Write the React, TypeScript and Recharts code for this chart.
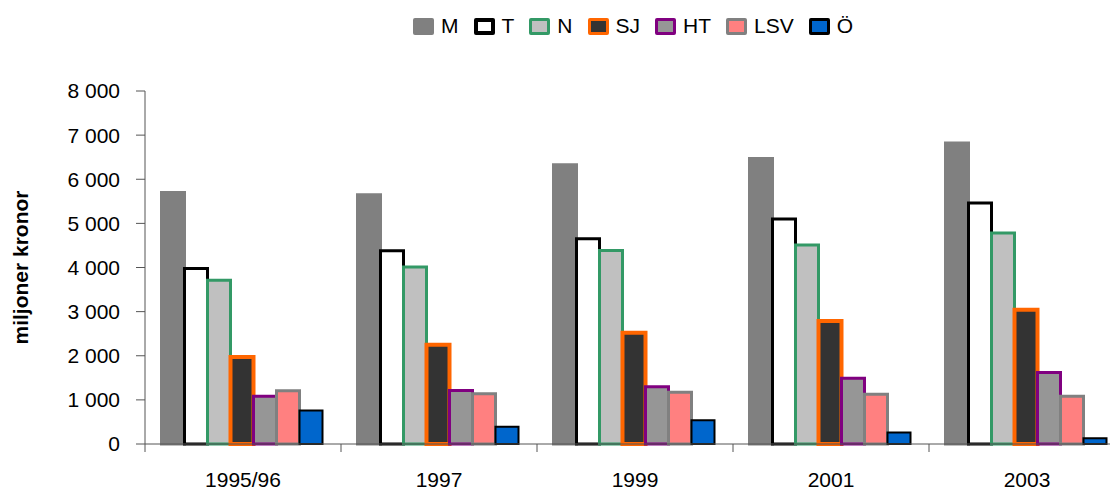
import { Bar, BarChart, Legend, XAxis, YAxis } from "recharts";

const categories = ["1995/96", "1997", "1999", "2001", "2003"];
const mValues = [5700, 5650, 6330, 6470, 6820];
const tValues = [3980, 4380, 4650, 5100, 5460];
const nValues = [3710, 4010, 4385, 4510, 4780];
const sjValues = [1970, 2250, 2520, 2790, 3040];
const htValues = [1080, 1210, 1300, 1490, 1620];
const lsvValues = [1205, 1140, 1170, 1130, 1080];
const oValues = [760, 390, 540, 260, 130];
const yTicks = [0, 1000, 2000, 3000, 4000, 5000, 6000, 7000, 8000];

const CHART_W = 1130;
const CHART_H = 491;
const Y_AXIS_W = 145;
const RIGHT = 5;
const BAND = (CHART_W - Y_AXIS_W - RIGHT) / categories.length;
const X_TICK_SIZE = 8;
const X_TICK_MARGIN = 20;
const AXIS = "#555555";
const FONT = "'Liberation Sans', Arial, sans-serif";

const series = [
  { key: "M", values: mValues, fill: "#808080", stroke: "#808080", width: 3, legendBorder: 0 },
  { key: "T", values: tValues, fill: "#FFFFFF", stroke: "#000000", width: 3, legendBorder: 4 },
  { key: "N", values: nValues, fill: "#C0C0C0", stroke: "#339966", width: 3, legendBorder: 3 },
  { key: "SJ", values: sjValues, fill: "#333333", stroke: "#FF6600", width: 4, legendBorder: 3 },
  { key: "HT", values: htValues, fill: "#969696", stroke: "#800080", width: 3, legendBorder: 3 },
  { key: "LSV", values: lsvValues, fill: "#FF8080", stroke: "#808080", width: 3, legendBorder: 3 },
  { key: "Ö", values: oValues, fill: "#0066CC", stroke: "#000000", width: 2, legendBorder: 3 },
];

const data = categories.map((name, i) => {
  const row: Record<string, string | number> = { name };
  series.forEach((s) => {
    row[s.key] = s.values[i];
  });
  return row;
});

const formatThousands = (v: number) =>
  String(v).replace(/\B(?=(\d{3})+(?!\d))/g, " ");

function CategoryTick(props: any) {
  const { x, y, payload } = props;
  const half = payload?.offset ?? BAND / 2;
  const axisY = y - X_TICK_SIZE - X_TICK_MARGIN;
  return (
    <g>
      <line
        x1={x - half}
        x2={x - half}
        y1={axisY}
        y2={axisY + X_TICK_SIZE}
        stroke={AXIS}
      />
      <text x={x} y={y} dy="0.71em" textAnchor="middle" fontSize={21} fill="#000">
        {payload.value}
      </text>
    </g>
  );
}

function YTitle(props: any) {
  const vb = props?.viewBox ?? { y: 91, height: 353 };
  const cx = 28;
  const cy = vb.y + vb.height / 2;
  return (
    <text
      x={cx}
      y={cy}
      transform={`rotate(-90 ${cx} ${cy})`}
      textAnchor="middle"
      fontWeight="bold"
      fontSize={21}
      fill="#000"
    >
      miljoner kronor
    </text>
  );
}

function SeriesLegend() {
  return (
    <div
      style={{
        display: "flex",
        alignItems: "center",
        fontSize: 21,
        lineHeight: "24px",
        whiteSpace: "nowrap",
        fontFamily: FONT,
        color: "#000",
      }}
    >
      {series.map((s, i) => (
        <div
          key={s.key}
          style={{
            display: "flex",
            alignItems: "center",
            marginRight: i < series.length - 1 ? 15 : 0,
          }}
        >
          <span
            style={{
              display: "inline-block",
              width: 21,
              height: 17,
              boxSizing: "border-box",
              background: s.fill,
              border: s.legendBorder ? `${s.legendBorder}px solid ${s.stroke}` : "none",
              borderRadius: 2,
              marginRight: 7,
            }}
          />
          <span>{s.key}</span>
        </div>
      ))}
    </div>
  );
}

export default function App() {
  return (
    <div
      style={{
        position: "absolute",
        left: 0,
        top: 0,
        width: 1110,
        height: CHART_H,
        overflow: "hidden",
        background: "#fff",
        fontFamily: FONT,
      }}
    >
      <BarChart
        width={CHART_W}
        height={CHART_H}
        data={data}
        margin={{ top: 91, right: RIGHT, bottom: 0, left: 0 }}
        barCategoryGap={16.5}
        barGap={0}
      >
        <XAxis
          dataKey="name"
          height={47}
          axisLine={{ stroke: AXIS }}
          tickLine={false}
          tickSize={X_TICK_SIZE}
          tickMargin={X_TICK_MARGIN}
          tick={<CategoryTick />}
          interval={0}
        />
        <YAxis
          width={Y_AXIS_W}
          domain={[0, 8000]}
          ticks={yTicks}
          interval={0}
          tickFormatter={formatThousands}
          axisLine={{ stroke: AXIS }}
          tickLine={{ stroke: AXIS }}
          tickSize={9}
          tickMargin={16}
          tick={{ fill: "#000", fontSize: 21 }}
          label={(props: any) => <YTitle {...props} />}
        />
        <Legend
          verticalAlign="middle"
          align="center"
          layout="horizontal"
          wrapperStyle={{ top: 14, left: 413, width: 520 }}
          content={() => <SeriesLegend />}
        />
        {series.map((s) => (
          <Bar
            key={s.key}
            dataKey={s.key}
            fill={s.fill}
            stroke={s.stroke}
            strokeWidth={s.width}
            isAnimationActive={false}
          />
        ))}
      </BarChart>
    </div>
  );
}
